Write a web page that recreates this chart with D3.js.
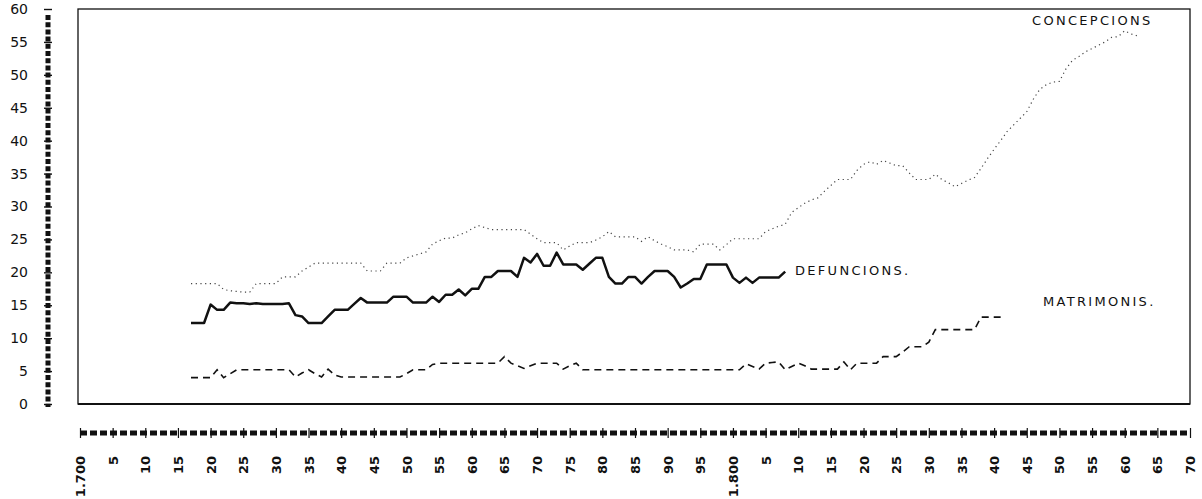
<!DOCTYPE html>
<html>
<head>
<meta charset="utf-8">
<script src="https://cdn.jsdelivr.net/npm/d3@7"></script>
<style>
  body { margin: 0; background: #fff; }
  text { font-family: "DejaVu Sans", sans-serif; fill: #111; }
</style>
</head>
<body>
<div id="chart"></div>
<script>
// ---- data (values per 1000, by year) ----
var defYears = d3.range(1717, 1809);
var defuncions = [
  12.3, 12.3, 12.3, 15.1, 14.3, 14.3, 15.4, 15.3, 15.3, 15.2,
  15.3, 15.2, 15.2, 15.2, 15.2, 15.3, 13.5, 13.3, 12.3, 12.3,
  12.3, 13.3, 14.3, 14.3, 14.3, 15.2, 16.1, 15.4, 15.4, 15.4,
  15.4, 16.3, 16.3, 16.3, 15.4, 15.4, 15.4, 16.3, 15.5, 16.6,
  16.6, 17.4, 16.5, 17.5, 17.5, 19.3, 19.3, 20.2, 20.2, 20.2,
  19.3, 22.2, 21.5, 22.8, 21.0, 21.0, 23.0, 21.2, 21.2, 21.2,
  20.4, 21.3, 22.2, 22.2, 19.3, 18.3, 18.3, 19.3, 19.3, 18.3,
  19.3, 20.2, 20.2, 20.2, 19.3, 17.7, 18.3, 19.0, 19.0, 21.2,
  21.2, 21.2, 21.2, 19.2, 18.4, 19.2, 18.4, 19.2, 19.2, 19.2,
  19.2, 20.1
];

var conYears = d3.range(1717, 1863);
var concepcions = [
  18.3, 18.3, 18.3, 18.3, 18.3, 17.4, 17.2, 17.1, 17.0, 17.0,
  18.3, 18.3, 18.3, 18.3, 19.3, 19.3, 19.3, 20.2, 20.8, 21.4,
  21.4, 21.4, 21.4, 21.4, 21.4, 21.4, 21.4, 20.2, 20.2, 20.2,
  21.4, 21.4, 21.4, 22.2, 22.5, 22.8, 23.1, 24.3, 24.8, 25.2,
  25.2, 25.7, 26.0, 26.6, 27.1, 26.8, 26.5, 26.5, 26.5, 26.5,
  26.5, 26.5, 25.8, 25.1, 24.5, 24.5, 24.5, 23.4, 24.0, 24.5,
  24.5, 24.5, 24.9, 25.4, 26.2, 25.4, 25.4, 25.4, 25.4, 24.7,
  25.4, 24.8, 24.3, 23.9, 23.4, 23.4, 23.4, 23.1, 24.3, 24.3,
  24.3, 23.4, 24.2, 25.1, 25.1, 25.1, 25.1, 25.1, 26.2, 26.6,
  27.0, 27.3, 29.1, 29.8, 30.5, 31.0, 31.3, 32.3, 33.2, 34.1,
  34.1, 34.1, 35.5, 36.4, 36.8, 36.4, 37.0, 36.6, 36.2, 36.2,
  35.1, 34.1, 34.1, 34.1, 34.9, 34.1, 33.6, 33.0, 33.5, 34.0,
  34.4, 35.8, 37.3, 38.7, 40.0, 41.4, 42.4, 43.4, 44.4, 46.3,
  47.8, 48.5, 48.9, 49.0, 50.9, 52.2, 52.8, 53.5, 54.0, 54.5,
  55.0, 55.7, 55.8, 56.7, 56.2, 55.9
];

var matYears = d3.range(1717, 1852);
var matrimonis = [
  4.0, 4.0, 4.0, 4.0, 5.2, 4.0, 4.6, 5.2, 5.2, 5.2,
  5.2, 5.2, 5.2, 5.2, 5.2, 5.2, 4.1, 4.7, 5.2, 4.6,
  4.1, 5.3, 4.4, 4.1, 4.1, 4.1, 4.1, 4.1, 4.1, 4.1,
  4.1, 4.1, 4.1, 4.6, 5.2, 5.2, 5.2, 6.0, 6.2, 6.2,
  6.2, 6.2, 6.2, 6.2, 6.2, 6.2, 6.2, 6.2, 7.2, 6.2,
  5.8, 5.4, 5.8, 6.2, 6.2, 6.2, 6.2, 5.3, 5.8, 6.2,
  5.2, 5.2, 5.2, 5.2, 5.2, 5.2, 5.2, 5.2, 5.2, 5.2,
  5.2, 5.2, 5.2, 5.2, 5.2, 5.2, 5.2, 5.2, 5.2, 5.2,
  5.2, 5.2, 5.2, 5.2, 5.2, 6.1, 5.7, 5.3, 6.2, 6.3,
  6.4, 5.2, 5.7, 6.2, 5.8, 5.3, 5.3, 5.3, 5.3, 5.3,
  6.4, 5.2, 6.2, 6.2, 6.2, 6.2, 7.2, 7.2, 7.2, 7.9,
  8.7, 8.7, 8.7, 9.4, 11.3, 11.3, 11.3, 11.3, 11.3, 11.3,
  11.3, 13.2, 13.2, 13.2, 13.2
];

var yTicks = d3.range(0, 61, 5);
var xTicks = d3.range(1700, 1871, 5);
var xTickLabels = xTicks.map(function (y) {
  if (y === 1700) return "1.700";
  if (y === 1800) return "1.800";
  return String(y % 100);
});

// ---- layout ----
var svgWidth = 1202;
var svgHeight = 499;
var frame = { left: 78, right: 1190, top: 9, bottom: 404 };

var svg = d3.select("#chart")
  .append("svg")
  .attr("width", svgWidth)
  .attr("height", svgHeight);

var xScale = d3.scaleLinear()
  .domain([1700, 1870])
  .range([80, 1190]);

var yScale = d3.scaleLinear()
  .domain([0, 60])
  .range([frame.bottom, frame.top]);

// frame
svg.append("rect")
  .attr("x", frame.left)
  .attr("y", frame.top)
  .attr("width", frame.right - frame.left)
  .attr("height", frame.bottom - frame.top)
  .attr("fill", "none")
  .attr("stroke", "#111")
  .attr("stroke-width", 1.3);

svg.append("line")
  .attr("x1", frame.left).attr("x2", frame.right)
  .attr("y1", frame.bottom).attr("y2", frame.bottom)
  .attr("stroke", "#111")
  .attr("stroke-width", 2);

// left axis: thick dashed bar with labels
var leftAxis = d3.axisLeft(yScale)
  .tickValues(yTicks)
  .tickSize(0)
  .tickPadding(20);

var gLeft = svg.append("g")
  .attr("transform", "translate(48,0)")
  .call(leftAxis);
gLeft.select(".domain").remove();
gLeft.selectAll("text")
  .attr("font-size", 14)
  .attr("font-family", "DejaVu Sans, sans-serif")
  .attr("fill", "#111");

svg.append("line")
  .attr("x1", 48).attr("x2", 48)
  .attr("y1", frame.top + 6).attr("y2", frame.bottom + 3)
  .attr("stroke", "#111")
  .attr("stroke-width", 5)
  .attr("stroke-dasharray", "5,2.2");

gLeft.selectAll(".tick").append("line")
  .attr("x1", -4).attr("x2", 4)
  .attr("stroke", "#111")
  .attr("stroke-width", 1.4);

// bottom axis: thick dashed bar with rotated labels
svg.append("line")
  .attr("x1", 80).attr("x2", 1188)
  .attr("y1", 433).attr("y2", 433)
  .attr("stroke", "#111")
  .attr("stroke-width", 5)
  .attr("stroke-dasharray", "7,3");

var bottomAxis = d3.axisBottom(xScale)
  .tickValues(xTicks)
  .tickSize(0)
  .tickFormat(function (d, i) { return xTickLabels[i]; });

var gBottom = svg.append("g")
  .attr("transform", "translate(0,456)")
  .call(bottomAxis);
gBottom.select(".domain").remove();
gBottom.selectAll(".tick line").remove();
gBottom.selectAll(".tick").append("line")
  .attr("y1", -28).attr("y2", -18)
  .attr("stroke", "#111")
  .attr("stroke-width", 1.2);
gBottom.selectAll("text")
  .attr("transform", "rotate(-90)")
  .attr("text-anchor", "end")
  .attr("x", 0)
  .attr("y", 0)
  .attr("dy", "0.35em")
  .attr("font-size", 13)
  .attr("font-weight", "bold")
  .attr("font-family", "DejaVu Sans, sans-serif")
  .attr("fill", "#111");

// series
var line = d3.line()
  .x(function (d) { return xScale(d[0]); })
  .y(function (d) { return yScale(d[1]); });

svg.append("path")
  .datum(d3.zip(conYears, concepcions))
  .attr("d", line)
  .attr("fill", "none")
  .attr("stroke", "#444")
  .attr("stroke-width", 1.2)
  .attr("stroke-dasharray", "1.2,3.5");

svg.append("path")
  .datum(d3.zip(matYears, matrimonis))
  .attr("d", line)
  .attr("fill", "none")
  .attr("stroke", "#111")
  .attr("stroke-width", 1.6)
  .attr("stroke-dasharray", "7,5");

svg.append("path")
  .datum(d3.zip(defYears, defuncions))
  .attr("d", line)
  .attr("fill", "none")
  .attr("stroke", "#111")
  .attr("stroke-width", 2.5)
  .attr("stroke-linejoin", "round");

// series labels
var labels = [
  { text: "CONCEPCIONS", x: 1032, y: 25 },
  { text: "DEFUNCIONS.", x: 795, y: 275 },
  { text: "MATRIMONIS.", x: 1043, y: 306 }
];
svg.selectAll(".serieslabel")
  .data(labels)
  .enter()
  .append("text")
  .attr("class", "serieslabel")
  .attr("x", function (d) { return d.x; })
  .attr("y", function (d) { return d.y; })
  .attr("font-size", 13)
  .attr("letter-spacing", "2.3px")
  .text(function (d) { return d.text; });
</script>
</body>
</html>
